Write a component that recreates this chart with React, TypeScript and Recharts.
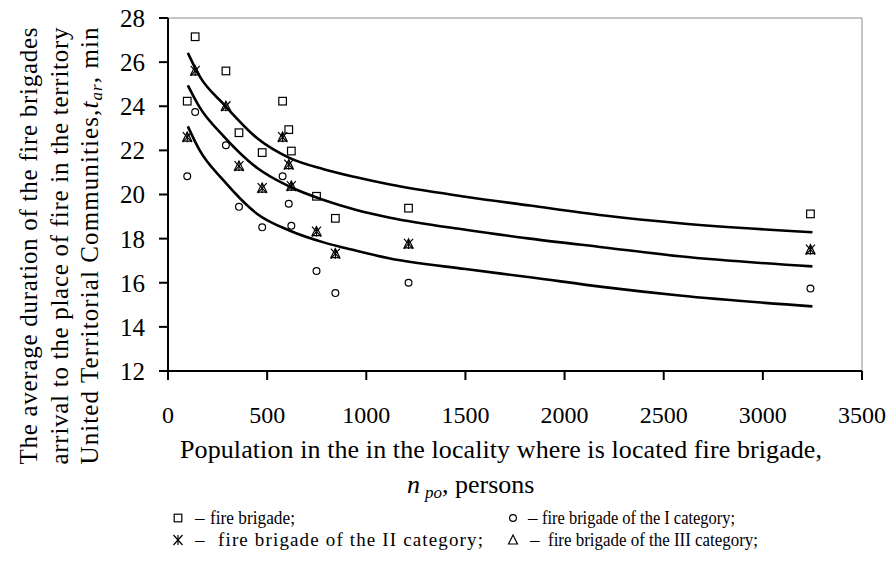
import React from "react";
import { ComposedChart, Line, Scatter, XAxis, YAxis, ReferenceLine } from "recharts";

// population of the locality (same localities for every brigade type)
const population = [97, 137, 292, 358, 475, 578, 609, 622, 749, 844, 1213, 3240];

const fireBrigade = [24.23, 27.15, 25.6, 22.8, 21.9, 24.23, 22.94, 21.97, 19.92, 18.92, 19.38, 19.12];
const categoryI = [20.83, 23.74, 22.23, 19.44, 18.51, 20.83, 19.58, 18.58, 16.53, 15.53, 16.0, 15.74];
const categoryII = [22.6, 25.6, 24.0, 21.29, 20.29, 22.6, 21.35, 20.38, 18.32, 17.32, 17.76, 17.5];
const categoryIII = [22.6, 25.6, 24.0, 21.29, 20.29, 22.6, 21.35, 20.38, 18.32, 17.32, 17.76, 17.5];

// trend curves
const curveX = [100, 160, 280, 450, 615, 785, 950, 1120, 1500, 1825, 2200, 2580, 3250];
const upperCurve = [26.42, 25.35, 24.1, 22.55, 21.65, 21.15, 20.78, 20.45, 19.9, 19.5, 19.05, 18.7, 18.29];
const middleCurve = [24.95, 23.95, 22.65, 21.2, 20.35, 19.75, 19.3, 18.95, 18.4, 18.0, 17.6, 17.2, 16.74];
const lowerCurve = [23.09, 22.0, 20.64, 19.12, 18.36, 17.83, 17.45, 17.1, 16.62, 16.25, 15.8, 15.42, 14.93];

const xTicks = [0, 500, 1000, 1500, 2000, 2500, 3000, 3500];
const yTicks = [12, 14, 16, 18, 20, 22, 24, 26, 28];

const FONT = '"Liberation Serif", "Times New Roman", serif';

const toPoints = (xs: number[], ys: number[]) => xs.map((x, i) => ({ x, y: ys[i] }));

const SquareDot = (p: any) => (
  <rect x={p.cx - 3.8} y={p.cy - 3.8} width={7.6} height={7.6} fill="none" stroke="#000" strokeWidth={1.2} />
);
const CircleDot = (p: any) => <circle cx={p.cx} cy={p.cy} r={3.4} fill="none" stroke="#000" strokeWidth={1.2} />;
const TriangleDot = (p: any) => (
  <polygon
    points={`${p.cx},${p.cy - 5} ${p.cx - 4.5},${p.cy + 4} ${p.cx + 4.5},${p.cy + 4}`}
    fill="none"
    stroke="#000"
    strokeWidth={1.2}
  />
);
const StarDot = (p: any) => (
  <g stroke="#000" strokeWidth={1.2}>
    <line x1={p.cx - 4.5} y1={p.cy - 5} x2={p.cx + 4.5} y2={p.cy + 5} />
    <line x1={p.cx + 4.5} y1={p.cy - 5} x2={p.cx - 4.5} y2={p.cy + 5} />
    <line x1={p.cx} y1={p.cy - 5} x2={p.cx} y2={p.cy + 5} />
  </g>
);

function Overlay() {
  return (
    <svg
      width={890}
      height={574}
      style={{ position: "absolute", left: 0, top: 0, pointerEvents: "none", fontFamily: FONT }}
      fill="#000"
    >
      {/* y axis title, justified lines */}
      <text x={37} y={246} transform="rotate(-90 37 246)" textAnchor="middle" fontSize={25} textLength={437} lengthAdjust="spacing">
        The average duration of the fire brigades
      </text>
      <text x={68} y={246} transform="rotate(-90 68 246)" textAnchor="middle" fontSize={25} textLength={437} lengthAdjust="spacing">
        arrival to the place of fire in the territory
      </text>
      <text x={98} y={246} transform="rotate(-90 98 246)" textAnchor="middle" fontSize={25} textLength={437} lengthAdjust="spacing">
        United Territorial Communities,
        <tspan fontStyle="italic">t</tspan>
        <tspan fontStyle="italic" fontSize={17} dy={4}>ar</tspan>
        <tspan dy={-4}>, min</tspan>
      </text>

      {/* x axis title */}
      <text x={501} y={458} textAnchor="middle" fontSize={26} textLength={642} lengthAdjust="spacing">
        Population in the in the locality where is located fire brigade,
      </text>
      <text x={407} y={493} fontSize={26}>
        <tspan fontStyle="italic">n</tspan>
        <tspan fontStyle="italic" fontSize={17} dx={5} dy={5}>po</tspan>
        <tspan dy={-5}>, persons</tspan>
      </text>

      {/* legend */}
      <SquareDot cx={178} cy={518} />
      <text x={195} y={524} fontSize={19}>–</text>
      <text x={210} y={524} fontSize={19} textLength={85} lengthAdjust="spacingAndGlyphs">fire brigade;</text>

      <CircleDot cx={513} cy={518} />
      <text x={528} y={524} fontSize={19}>–</text>
      <text x={542} y={524} fontSize={19} textLength={193} lengthAdjust="spacingAndGlyphs">fire brigade of the I category;</text>

      <StarDot cx={178} cy={540} />
      <text x={195} y={546} fontSize={19}>–</text>
      <text x={218} y={546} fontSize={19} textLength={265} lengthAdjust="spacing">fire brigade of the II category;</text>

      <TriangleDot cx={513} cy={540} />
      <text x={530} y={546} fontSize={19}>–</text>
      <text x={548} y={546} fontSize={19} textLength={210} lengthAdjust="spacingAndGlyphs">fire brigade of the III category;</text>
    </svg>
  );
}

export default function App() {
  const tickStyle = { fill: "#000", fontFamily: FONT, style: { fontFamily: FONT } };
  return (
    <div style={{ position: "absolute", left: 0, top: 0, width: 890, height: 574, background: "#fff", fontFamily: FONT }}>
      <ComposedChart width={890} height={574} margin={{ top: 18, right: 28, bottom: 173, left: 0 }} style={{ fontFamily: FONT }}>
        <XAxis
          dataKey="x"
          type="number"
          domain={[0, 3500]}
          ticks={xTicks}
          height={30}
          tickSize={9}
          tickMargin={26}
          axisLine={{ stroke: "#000", strokeWidth: 2 }}
          tickLine={{ stroke: "#000", strokeWidth: 2 }}
          tick={{ ...tickStyle, fontSize: 24 }}
        />
        <YAxis
          dataKey="y"
          type="number"
          domain={[12, 28]}
          ticks={yTicks}
          width={168}
          tickSize={9}
          tickMargin={14}
          axisLine={{ stroke: "#000", strokeWidth: 2 }}
          tickLine={{ stroke: "#000", strokeWidth: 2 }}
          tick={{ ...tickStyle, fontSize: 25 }}
        />
        <ReferenceLine y={28} stroke="#8c8c8c" strokeWidth={1} />
        <ReferenceLine x={3500} stroke="#8c8c8c" strokeWidth={1} />

        <Line data={toPoints(curveX, upperCurve)} dataKey="y" type="monotone" stroke="#000" strokeWidth={2.6} dot={false} isAnimationActive={false} />
        <Line data={toPoints(curveX, middleCurve)} dataKey="y" type="monotone" stroke="#000" strokeWidth={2.6} dot={false} isAnimationActive={false} />
        <Line data={toPoints(curveX, lowerCurve)} dataKey="y" type="monotone" stroke="#000" strokeWidth={2.6} dot={false} isAnimationActive={false} />

        <Scatter name="fire brigade" data={toPoints(population, fireBrigade)} shape={SquareDot} isAnimationActive={false} />
        <Scatter name="fire brigade of the I category" data={toPoints(population, categoryI)} shape={CircleDot} isAnimationActive={false} />
        <Scatter name="fire brigade of the II category" data={toPoints(population, categoryII)} shape={StarDot} isAnimationActive={false} />
        <Scatter name="fire brigade of the III category" data={toPoints(population, categoryIII)} shape={TriangleDot} isAnimationActive={false} />
      </ComposedChart>
      <Overlay />
    </div>
  );
}
